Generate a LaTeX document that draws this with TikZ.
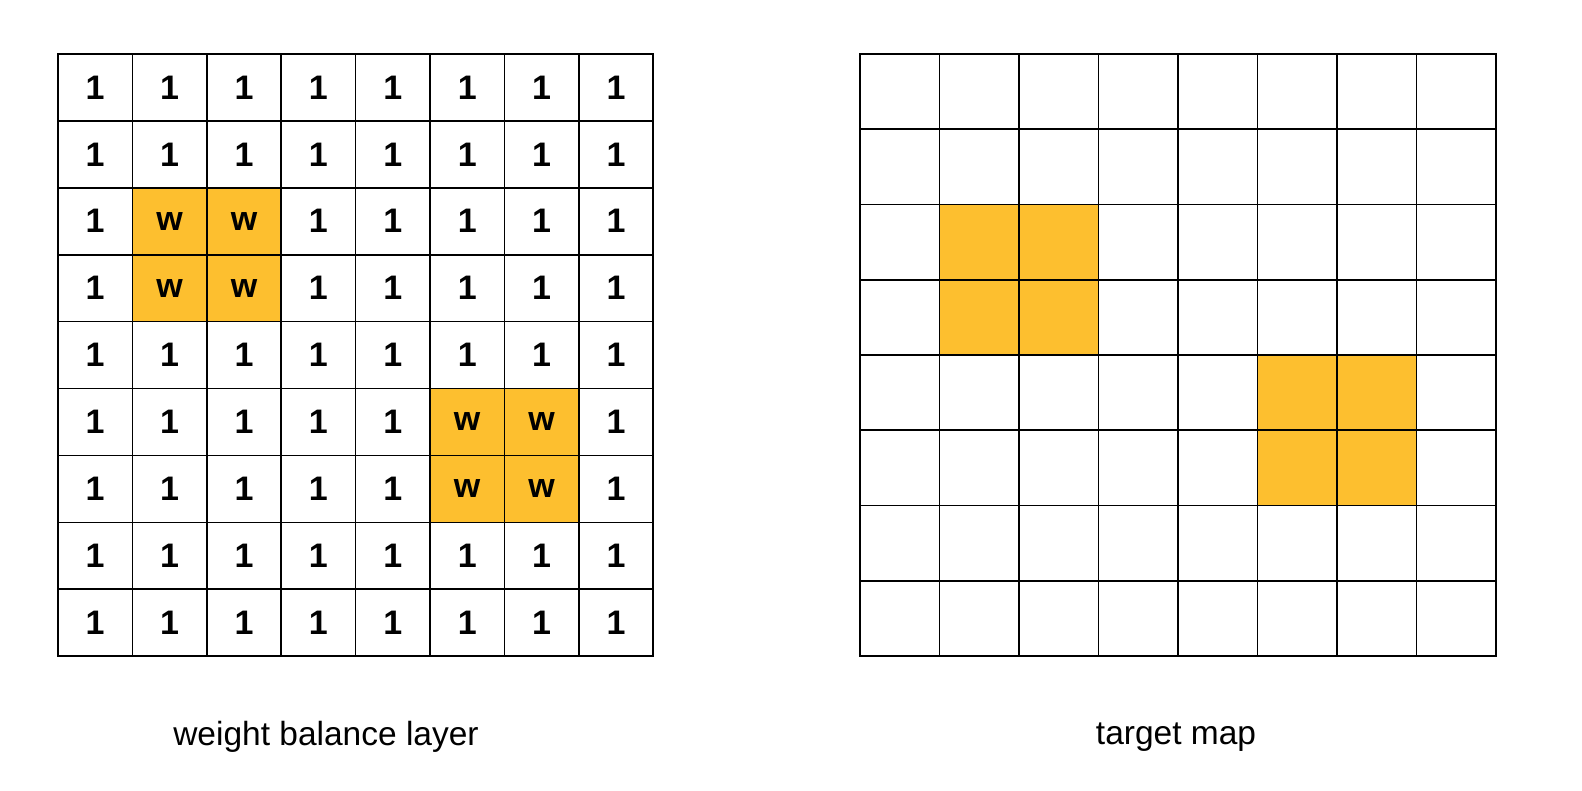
\documentclass[tikz,border=0pt]{standalone}
\usepackage{fontspec}
\setmainfont{Liberation Sans}
\usetikzlibrary{positioning}
\definecolor{hi}{RGB}{253,191,47}
\tikzstyle{cell} = [rectangle, draw, line width=1.6pt, inner sep=0pt, font=\fontsize{34}{34}\selectfont\bfseries]
\tikzstyle{wcell} = [cell, minimum width=74.4pt, minimum height=66.9pt]
\tikzstyle{tcell} = [cell, minimum width=79.5pt, minimum height=75.25pt]
\tikzstyle{caption} = [font=\fontsize{33.5}{33.5}\selectfont]
\tikzset{on0/.style={}, on1/.style={fill=hi}}

\begin{document}
\begin{tikzpicture}[x=1pt, y=-1pt]
    \useasboundingbox (0,0) rectangle (1582,790);

    % weight balance layer
    \foreach \r in {1,...,9}
        \foreach \c in {1,...,8} {
            \pgfmathtruncatemacro\hw{(\r>=3 && \r<=4 && \c>=2 && \c<=3) || (\r>=6 && \r<=7 && \c>=6 && \c<=7)}
            \node [wcell, on\hw] (w-\r-\c) at ({58+74.4*(\c-0.5)},{54+66.9*(\r-0.5)}) {\ifnum\hw=1 w\else 1\fi};
        }

    % target map
    \foreach \r in {1,...,8}
        \foreach \c in {1,...,8} {
            \pgfmathtruncatemacro\hw{(\r>=3 && \r<=4 && \c>=2 && \c<=3) || (\r>=5 && \r<=6 && \c>=6 && \c<=7)}
            \node [tcell, on\hw] (t-\r-\c) at ({860+79.5*(\c-0.5)},{54+75.25*(\r-0.5)}) {};
        }

    \node [caption] (wcap) at (326,737) {weight balance layer};
    \node [caption] (tcap) at (1176,737) {target map};
\end{tikzpicture}
\end{document}
